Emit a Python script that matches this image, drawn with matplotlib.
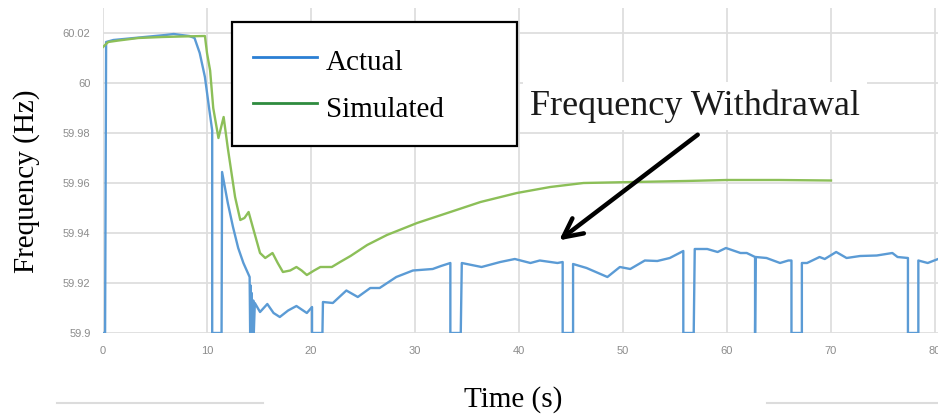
import matplotlib
matplotlib.use("Agg")
import matplotlib.pyplot as plt
from matplotlib.lines import Line2D

# actual frequency trace (drops to the axis floor are logging gaps)
actual_t = [0.0, 0.2, 0.3, 1.0, 2.0, 3.0, 4.0, 5.0, 6.0, 6.8, 7.5, 8.3, 8.8, 9.3, 9.8,
            10.2, 10.5, 10.5, 11.4, 11.45, 12.0, 12.5, 13.0, 13.5, 14.1, 14.15, 14.2,
            14.25, 14.3, 14.35, 14.45, 14.5, 14.6, 15.1, 15.8, 16.4, 17.0, 17.8, 18.6,
            19.6, 20.1, 20.1, 21.1, 21.15, 22.1, 23.4, 24.5, 25.7, 26.6, 28.2, 29.8,
            31.7, 32.5, 33.4, 33.4, 34.4, 34.5, 36.4, 38.2, 39.6, 41.1, 42.0, 43.7,
            44.2, 44.2, 45.2, 45.2, 46.5, 48.5, 49.7, 50.7, 52.1, 53.3, 54.5, 55.8,
            55.8, 56.8, 56.9, 58.1, 59.1, 59.9, 61.3, 61.9, 62.7, 62.7, 62.75, 63.8,
            65.1, 65.9, 66.2, 66.2, 67.2, 67.2, 67.7, 68.9, 69.4, 70.5, 71.5, 72.8,
            74.4, 75.9, 76.4, 77.4, 77.4, 78.4, 78.4, 79.3, 80.3]
actual_f = [59.900, 59.900, 60.0164, 60.0172, 60.0176, 60.0180, 60.0184, 60.0188,
            60.0192, 60.0196, 60.0192, 60.0188, 60.0180, 60.0120, 60.0024, 59.990,
            59.981, 59.900, 59.900, 59.9644, 59.952, 59.9424, 59.934, 59.928, 59.9224,
            59.900, 59.919, 59.900, 59.916, 59.900, 59.913, 59.900, 59.912, 59.9084,
            59.9116, 59.908, 59.9064, 59.909, 59.9108, 59.908, 59.9104, 59.900, 59.900,
            59.9124, 59.912, 59.917, 59.9144, 59.918, 59.918, 59.9224, 59.925, 59.9256,
            59.9268, 59.928, 59.900, 59.900, 59.928, 59.9264, 59.9284, 59.9296, 59.928,
            59.929, 59.928, 59.9284, 59.900, 59.900, 59.9276, 59.926, 59.9224, 59.9264,
            59.9256, 59.929, 59.9288, 59.930, 59.9328, 59.900, 59.900, 59.9336, 59.9336,
            59.9324, 59.934, 59.932, 59.932, 59.9304, 59.900, 59.9304, 59.930, 59.928,
            59.929, 59.929, 59.900, 59.900, 59.928, 59.928, 59.9304, 59.9296, 59.9324,
            59.930, 59.9308, 59.931, 59.932, 59.9304, 59.930, 59.900, 59.900, 59.929,
            59.928, 59.9296]

# simulated frequency response
sim_t = [0.0, 0.5, 1.5, 3.4, 5.7, 7.5, 9.8, 10.0, 10.3, 10.6, 11.1, 11.6, 12.0, 12.7,
         13.2, 13.6, 14.0, 14.4, 15.1, 15.6, 16.3, 16.8, 17.3, 18.0, 18.6, 19.1, 19.6,
         20.3, 20.9, 22.0, 22.8, 23.8, 25.4, 27.3, 30.2, 33.4, 36.3, 39.8, 43.0, 46.2,
         51.0, 56.0, 60.0, 65.0, 70.0]
sim_f = [60.0144, 60.0164, 60.0170, 60.0180, 60.0184, 60.0186, 60.0188, 60.012, 60.005,
         59.990, 59.978, 59.9864, 59.974, 59.9544, 59.9452, 59.946, 59.9484, 59.9424,
         59.932, 59.930, 59.932, 59.928, 59.9244, 59.925, 59.9264, 59.925, 59.9232,
         59.925, 59.9264, 59.9264, 59.9284, 59.9308, 59.9352, 59.9392, 59.944, 59.9484,
         59.9524, 59.956, 59.9584, 59.960, 59.9604, 59.9608, 59.9612, 59.9612, 59.961]

yticks = [59.9, 59.92, 59.94, 59.96, 59.98, 60.0, 60.02]
ytick_labels = ["59.9", "59.92", "59.94", "59.96", "59.98", "60", "60.02"]
xticks = [0, 10, 20, 30, 40, 50, 60, 70, 80]

serif = "Liberation Serif"

fig = plt.figure(figsize=(9.38, 4.18), dpi=100)
ax = fig.add_axes([103 / 938, 1 - 333 / 418, 835 / 938, 325 / 418])

ax.plot(actual_t, actual_f, color="#5b9bd5", lw=1.7, zorder=3)
ax.plot(sim_t, sim_f, color="#8cbf58", lw=1.7, zorder=3)

ax.set_xlim(0, 80.29)
ax.set_ylim(59.9, 60.03)
ax.set_xticks(xticks)
ax.set_yticks(yticks)
ax.set_yticklabels(ytick_labels)
ax.grid(True, color="#dedede", lw=1.3)
ax.set_axisbelow(True)
for s in ax.spines.values():
    s.set_visible(False)
ax.tick_params(length=0, labelsize=8, labelcolor="#8c8c8c", pad=9)
for lab in ax.get_xticklabels() + ax.get_yticklabels():
    lab.set_family("Liberation Sans")

fig.text(27 / 938, 1 - 181 / 418, "Frequency (Hz)", rotation=90, ha="center",
         va="center", family=serif, fontsize=21)
fig.text(513 / 938, 1 - 400 / 418, "Time (s)", ha="center", va="center",
         family=serif, fontsize=21)

handles = [Line2D([], [], color="#2a7fd4", lw=2),
           Line2D([], [], color="#2e8b3e", lw=2)]
leg = ax.legend(handles, ["Actual", "Simulated"], loc="upper left",
                bbox_to_anchor=(232 / 938, 1 - 22 / 418, 285 / 938, 0.0),
                bbox_transform=fig.transFigure, mode="expand", borderaxespad=0,
                prop={"family": serif, "size": 21}, handlelength=2.2,
                handleheight=1.5, handletextpad=0.3, labelspacing=0.38,
                borderpad=0.72, fancybox=False, framealpha=1, edgecolor="black")
leg.get_frame().set_linewidth(1.6)
leg.set_zorder(5)

ax.text(56.9, 59.9908, "Frequency Withdrawal", ha="center", va="center",
        family=serif, fontsize=26, color="#1a1a1a", zorder=4,
        bbox=dict(facecolor="white", edgecolor="none", pad=5))
ax.annotate("", xy=(43.65, 59.9364), xytext=(57.4, 59.9800),
            arrowprops=dict(arrowstyle="->", lw=3.2, color="black",
                            mutation_scale=34), zorder=4)

for x0, x1 in [(57, 263), (767, 938)]:
    fig.add_artist(Line2D([x0 / 938, x1 / 938], [1 - 403 / 418] * 2,
                          color="#dcdcdc", lw=1.5))

fig.savefig("out.png", dpi=100)
